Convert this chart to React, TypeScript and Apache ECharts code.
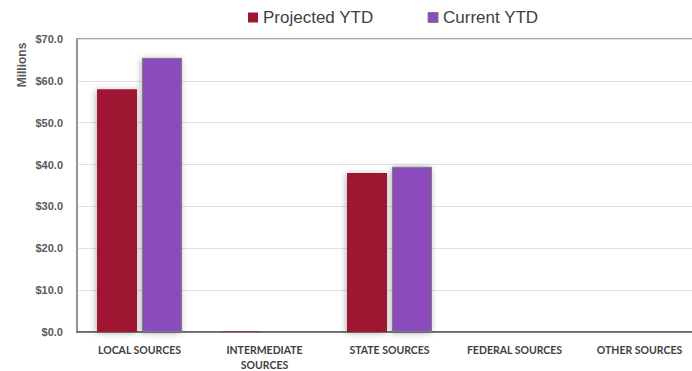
import React, { useEffect, useRef } from "react";
import * as echarts from "echarts";

const categories = ["LOCAL SOURCES", "INTERMEDIATE\nSOURCES", "STATE SOURCES", "FEDERAL SOURCES", "OTHER SOURCES"];
const projectedYTD = [58.0, 0.1, 38.0, 0, 0];
const currentYTD = [65.5, 0.2, 39.5, 0, 0];
const yTicks = { min: 0, max: 70, interval: 10 };

export default function App() {
  const ref = useRef<HTMLDivElement>(null);
  useEffect(() => {
    document.body.style.margin = "0";
    const chart = echarts.init(ref.current!, null, { renderer: "svg" });
    chart.setOption({
      animation: false,
      backgroundColor: "#ffffff",
      legend: {
        left: 243,
        top: 4,
        itemWidth: 10,
        itemHeight: 10,
        itemGap: 54,
        icon: "rect",
        textStyle: { fontFamily: "Liberation Sans, Arial", fontSize: 17, color: "#404040" },
        data: [
          { name: "Projected YTD" },
          { name: "Current YTD", itemStyle: { borderColor: "#7f7f7f", borderWidth: 1 } },
        ],
      },
      grid: {
        left: 77,
        top: 39,
        width: 625,
        height: 293,
        outerBoundsMode: "none",
        containLabel: false,
        show: true,
        borderColor: "#8c8c8c",
        borderWidth: 1.5,
      },
      graphic: [
        {
          type: "text",
          x: 22,
          y: 65,
          rotation: Math.PI / 2,
          style: {
            text: "Millions",
            font: "bold 12px 'Liberation Sans', Arial",
            fill: "#595959",
            textAlign: "center",
            textVerticalAlign: "middle",
          },
        },
      ],
      xAxis: {
        type: "category",
        data: categories,
        axisLine: { lineStyle: { color: "#595959", width: 1.5 } },
        axisTick: { show: false },
        axisLabel: {
          interval: 0,
          margin: 10,
          fontFamily: "Lato",
          fontWeight: "bold",
          fontSize: 10.5,
          color: "#404040",
          lineHeight: 15,
        },
      },
      yAxis: {
        type: "value",
        min: yTicks.min,
        max: yTicks.max,
        interval: yTicks.interval,
        axisLine: { show: true, lineStyle: { color: "#8c8c8c", width: 1.5 } },
        axisTick: { show: false },
        splitLine: { lineStyle: { color: "#e0e0e0", width: 1 } },
        axisLabel: {
          margin: 14,
          fontFamily: "Liberation Sans, Arial",
          fontWeight: "bold",
          fontSize: 11,
          color: "#595959",
          formatter: (v: number) => "$" + v.toFixed(1),
        },
      },
      series: [
        {
          name: "Projected YTD",
          type: "bar",
          data: projectedYTD,
          barWidth: 40,
          barGap: "12.5%",
          itemStyle: {
            color: "#9e1631",
            shadowColor: "rgba(0,0,0,0.3)",
            shadowBlur: 6,
            shadowOffsetX: -1,
            shadowOffsetY: 1,
          },
        },
        {
          name: "Current YTD",
          type: "bar",
          data: currentYTD,
          barWidth: 40,
          itemStyle: {
            color: "#8b4bbd",
            borderColor: "#7f7f7f",
            borderWidth: 1,
            shadowColor: "rgba(0,0,0,0.3)",
            shadowBlur: 6,
            shadowOffsetX: -1,
            shadowOffsetY: 1,
          },
        },
      ],
    });
    return () => chart.dispose();
  }, []);
  return <div ref={ref} style={{ width: 692, height: 371 }} />;
}
